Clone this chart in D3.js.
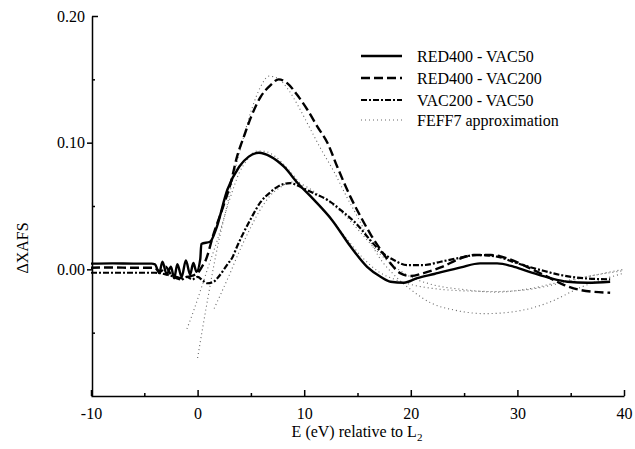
<!DOCTYPE html>
<html>
<head>
<meta charset="utf-8">
<script src="https://cdn.jsdelivr.net/npm/d3@7"></script>
<style>
  body { margin: 0; background: #fff; }
  svg { font-family: "Liberation Serif", "Times New Roman", serif; }
  .axis path, .axis line { stroke: #000; stroke-width: 1.5; }
  .axis text { font-size: 16px; fill: #000; font-family: "Liberation Serif", serif; }
</style>
</head>
<body>
<svg id="chart" width="635" height="449"></svg>
<script>
let width = 635,
  height = 449;

// curves, [E (eV), dXAFS]
let red400_vac50 = [
  [-10, 0.0045], [-8, 0.0047], [-6, 0.0045], [-4.3, 0.0045], [-4.0, 0.004], [-3.6, -0.003],
  [-3.3, 0.006], [-2.9, -0.004], [-2.5, 0.002], [-2.2, -0.007], [-1.9, 0.004],
  [-1.5, -0.006], [-1.1, 0.007], [-0.7, -0.004], [-0.4, 0.005], [-0.1, -0.002],
  [0.25, 0.008], [0.35, 0.02], [1.2, 0.022], [1.7, 0.031], [2.8, 0.063], [3.9, 0.081],
  [4.8, 0.089], [5.75, 0.092], [6.85, 0.089], [8.1, 0.081], [9.4, 0.068], [10.9, 0.055],
  [12.6, 0.039], [14.35, 0.018], [15.9, 0.002], [17.2, -0.006], [18.1, -0.0098],
  [19.35, -0.0106], [20.6, -0.007], [22.2, -0.0037], [24.7, 0.0016], [26.5, 0.0047],
  [28.1, 0.0047], [29.7, 0.002], [31.5, -0.003], [33.1, -0.007], [34.7, -0.0098],
  [36.6, -0.0106], [38.7, -0.0098]
];

let red400_vac200 = [
  [-10, 0.0013], [-8, 0.0015], [-6, 0.0012], [-4.3, 0.0013], [-4.0, 0.001], [-3.5, -0.002],
  [-3.0, 0.002], [-2.5, -0.004], [-2.0, -0.006], [-1.5, -0.007], [-1.0, -0.006],
  [-0.5, -0.005], [0.0, -0.003], [0.4, 0.002], [0.75, 0.007], [1.5, 0.028], [2.5, 0.052],
  [3.1, 0.068], [3.7, 0.089], [4.35, 0.105], [5.0, 0.12], [5.9, 0.136], [6.85, 0.1455],
  [7.6, 0.15], [8.4, 0.147], [9.35, 0.1376], [10.3, 0.126], [11.25, 0.1125], [12.2, 0.0995],
  [13.1, 0.081], [14.35, 0.057], [15.3, 0.0415], [16.2, 0.028], [17.2, 0.015], [18.1, 0.0047],
  [19.0, -0.003], [20.0, -0.0053], [21.2, -0.003], [22.8, 0.0015], [24.7, 0.0087],
  [25.9, 0.0113], [27.5, 0.0113], [29.05, 0.0087], [30.9, 0.002], [32.8, -0.0058],
  [34.4, -0.0124], [35.9, -0.0163], [38.7, -0.0185]
];

let vac200_vac50 = [
  [-10, -0.0027], [-7, -0.0027], [-4, -0.0027], [-3.5, -0.003], [-3, -0.004], [-2.5, -0.005],
  [-2, -0.007], [-1.5, -0.008], [-1, -0.006], [-0.5, -0.008], [0, -0.006], [0.5, -0.009],
  [0.9, -0.011], [1.5, -0.0098], [1.85, -0.007], [2.8, 0.004], [3.3, 0.01], [3.7, 0.018],
  [4.2, 0.027], [5.0, 0.04], [5.9, 0.053], [6.85, 0.061], [7.8, 0.0665], [8.7, 0.068],
  [9.66, 0.065], [10.9, 0.06], [12.2, 0.0547], [13.4, 0.047], [15.0, 0.035], [16.2, 0.023],
  [17.2, 0.014], [18.4, 0.0073], [19.65, 0.0034], [21.2, 0.0034], [22.8, 0.006],
  [24.35, 0.0087], [26.2, 0.0113], [28.1, 0.01], [30, 0.0047], [32.2, -0.0006],
  [34.05, -0.0045], [36.2, -0.007], [38.7, -0.0079]
];

// the FEFF7 approximations, one for each difference curve
let feff_a = [
  [-1.0, -0.047], [-0.3, -0.031], [0.3, -0.016], [1.0, 0.002], [1.85, 0.023], [3.0, 0.055],
  [3.9, 0.076], [4.7, 0.087], [5.6, 0.0935], [6.4, 0.093], [7.3, 0.089], [8.4, 0.08],
  [9.6, 0.068], [11, 0.054], [12.5, 0.04], [14, 0.024], [15.5, 0.009], [17, -0.002],
  [18.5, -0.008], [20, -0.012], [22, -0.015], [25, -0.017], [28, -0.0175], [31, -0.016],
  [34, -0.011], [37, -0.005], [40, 0.0]
];

let feff_b = [
  [0.0, -0.07], [0.5, -0.045], [1.0, -0.021], [1.5, 0.002], [2.0, 0.023], [2.7, 0.048],
  [3.5, 0.078], [4.3, 0.104], [5.1, 0.127], [5.9, 0.144], [6.7, 0.1525], [7.5, 0.151],
  [8.5, 0.142], [9.5, 0.128], [10.5, 0.112], [11.5, 0.096], [12.8, 0.077], [14, 0.057],
  [15, 0.0415], [16, 0.025], [17, 0.01], [18.5, -0.005], [20, -0.016], [22, -0.027],
  [24, -0.032], [27, -0.035], [30, -0.033], [33, -0.026], [36, -0.014], [38, -0.008],
  [40, -0.003]
];

let feff_c = [
  [1.55, -0.031], [2.2, -0.019], [3.0, -0.004], [3.8, 0.012], [4.8, 0.03], [5.8, 0.046],
  [6.8, 0.058], [7.8, 0.065], [8.8, 0.069], [9.8, 0.067], [11, 0.061], [12.5, 0.052],
  [14, 0.041], [15.5, 0.027], [17, 0.013], [18.5, 0.002], [20, -0.006], [22, -0.012],
  [25, -0.016], [28, -0.018], [31, -0.0155], [34, -0.01], [37, -0.005], [40, -0.001]
];

let legend_labels = ["RED400 - VAC50", "RED400 - VAC200", "VAC200 - VAC50", "FEFF7 approximation"];
let x_ticks = [-10, 0, 10, 20, 30, 40],
  x_minor = [-5, 5, 15, 25, 35];
let y_ticks = [0.0, 0.1, 0.2],
  y_minor = [-0.05, 0.05, 0.15];

let styles = [
  { width: 2.4, dash: null, color: "#000" },
  { width: 2.4, dash: "9,4", color: "#000" },
  { width: 2.2, dash: "6,2,2,2", color: "#000" },
  { width: 1.1, dash: "1,3", color: "#666" }
];

let scales = {
  x: d3.scaleLinear().domain([-10, 40]).range([91, 624]),
  y: d3.scaleLinear().domain([-0.1, 0.2]).range([396, 16])
};

let svg = d3.select("#chart");

function draw_axes() {
  let ax = {
    x: d3.axisBottom(scales.x).tickValues(x_ticks).tickSize(-6).tickSizeOuter(0).tickPadding(12),
    y: d3.axisLeft(scales.y).tickValues(y_ticks).tickSize(5).tickSizeOuter(0).tickPadding(2)
      .tickFormat(d3.format(".2f"))
  };

  svg.append("g").attr("class", "axis")
    .attr("transform", "translate(0,396)")
    .call(ax.x)
    .call(g => g.selectAll("text").text(d => d < 0 ? "-" + Math.abs(d) : d));

  svg.append("g").attr("class", "axis")
    .attr("transform", "translate(92,0)")
    .call(ax.y)
    // the top tick points inward in the original
    .call(g => g.selectAll(".tick").filter(d => d == 0.2).select("line").attr("x2", 6));

  // minor ticks, inside
  svg.append("g").attr("class", "axis")
    .attr("transform", "translate(0,396)")
    .call(d3.axisBottom(scales.x).tickValues(x_minor).tickSize(-3).tickFormat(""))
    .call(g => g.select(".domain").remove());
  svg.append("g").attr("class", "axis")
    .attr("transform", "translate(92,0)")
    .call(d3.axisLeft(scales.y).tickValues(y_minor).tickSize(-3).tickFormat(""))
    .call(g => g.select(".domain").remove());

  let xt = svg.append("text")
    .attr("x", 357).attr("y", 437)
    .attr("text-anchor", "middle")
    .style("font-size", "16px")
    .text("E (eV) relative to L");
  xt.append("tspan").attr("dy", 4).style("font-size", "11px").text("2");

  svg.append("text")
    .attr("transform", "translate(28,248) rotate(-90)")
    .attr("text-anchor", "middle")
    .style("font-size", "16px")
    .text("\u0394XAFS");
}

function line_plot() {
  let line_gen = d3.line()
    .x(d => scales.x(d[0]))
    .y(d => scales.y(d[1]))
    .curve(d3.curveMonotoneX);

  let series = [
    { data: feff_a, s: styles[3] },
    { data: feff_b, s: styles[3] },
    { data: feff_c, s: styles[3] },
    { data: vac200_vac50, s: styles[2] },
    { data: red400_vac200, s: styles[1] },
    { data: red400_vac50, s: styles[0] }
  ];

  svg.append("g").selectAll("path")
    .data(series).enter()
    .append("path")
    .attr("d", d => line_gen(d.data))
    .attr("fill", "none")
    .attr("stroke", d => d.s.color)
    .attr("stroke-width", d => d.s.width)
    .attr("stroke-dasharray", d => d.s.dash)
    .attr("stroke-linejoin", "round");
}

function legend() {
  let rows = [56, 78, 100, 120];
  let g = svg.append("g");
  legend_labels.forEach((label, i) => {
    g.append("line")
      .attr("x1", 361).attr("x2", 402)
      .attr("y1", rows[i]).attr("y2", rows[i])
      .attr("stroke", styles[i].color)
      .attr("stroke-width", styles[i].width)
      .attr("stroke-dasharray", styles[i].dash);
    g.append("text")
      .attr("x", 417).attr("y", rows[i] + 6)
      .style("font-size", "16px")
      .text(label);
  });
}

draw_axes();
line_plot();
legend();
</script>
</body>
</html>
